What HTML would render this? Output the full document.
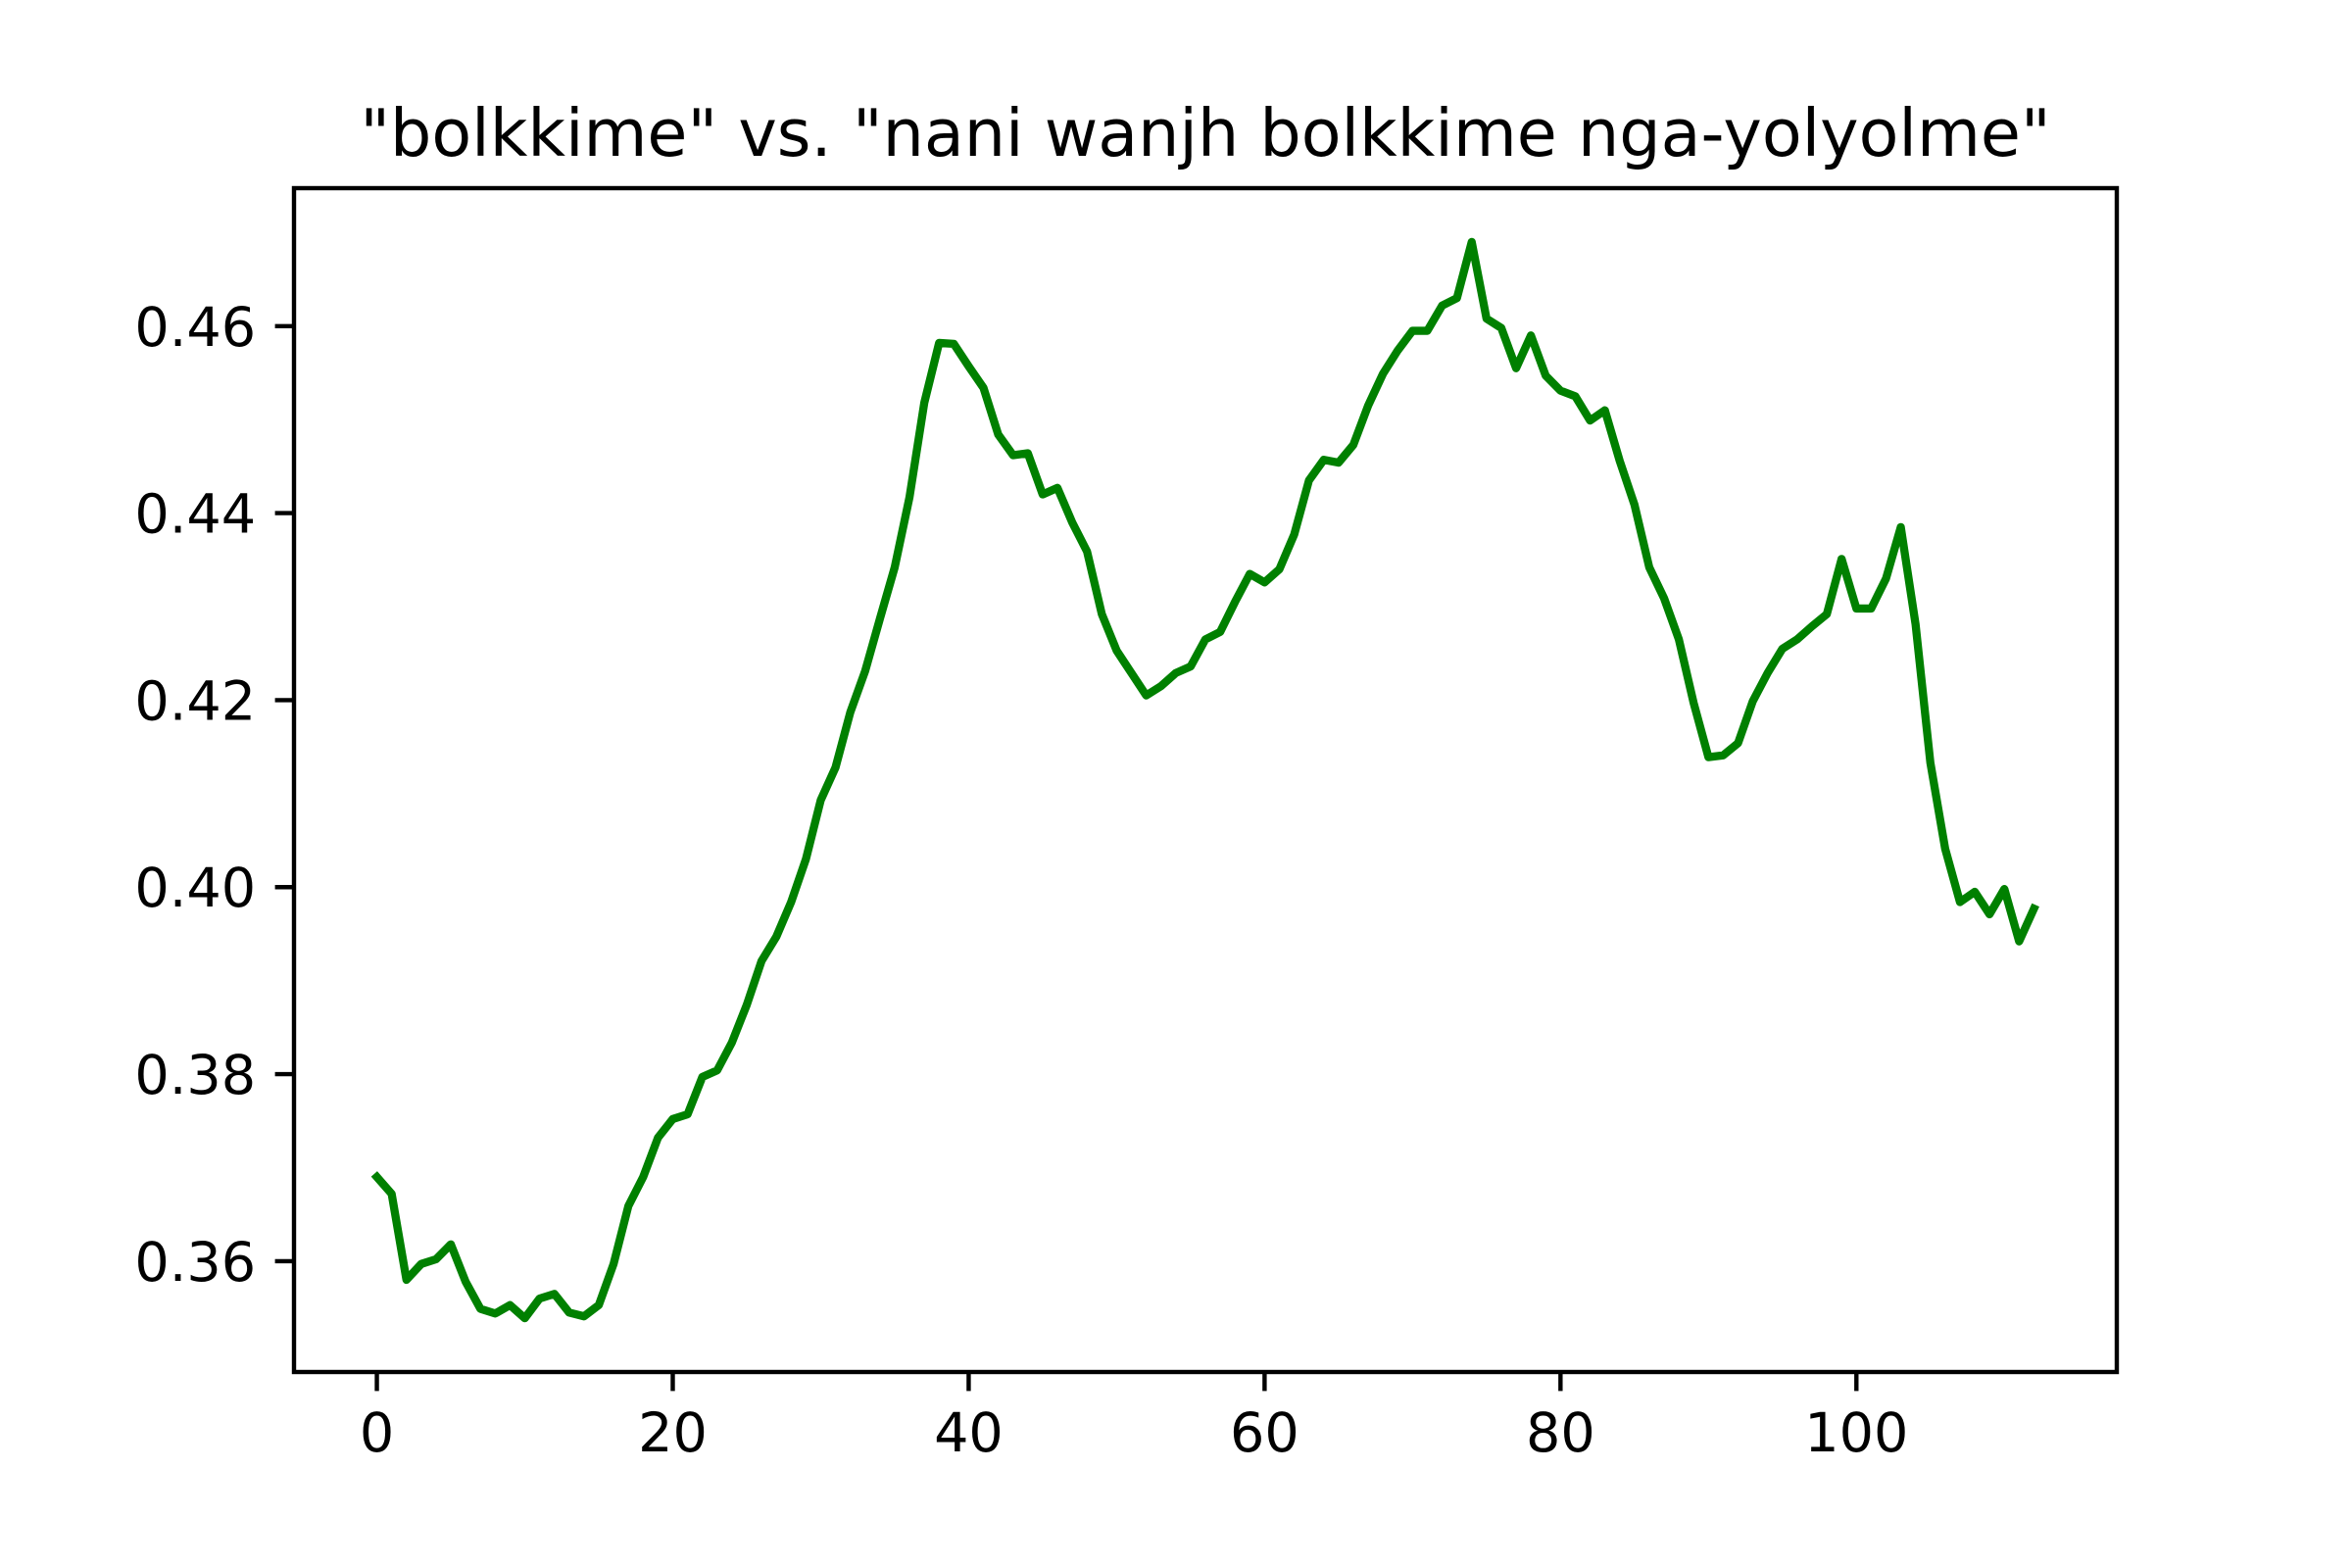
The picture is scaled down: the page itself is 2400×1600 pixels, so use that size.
<!DOCTYPE html>
<html><head><meta charset="utf-8"><style>html,body{margin:0;padding:0;background:#fff}svg{display:block}</style></head>
<body>
<svg id="chart" width="2400" height="1600" viewBox="0 0 2400 1600" xmlns="http://www.w3.org/2000/svg" font-family="'DejaVu Sans','Liberation Sans',sans-serif">
<rect x="0" y="0" width="2400" height="1600" fill="#fff"/>
<text x="1230" y="159" font-size="66.7" text-anchor="middle">"bolkkime" vs. "nani wanjh bolkkime nga-yolyolme"</text>
<g id="plot"></g>
<rect x="300" y="192" width="1860" height="1208" fill="none" stroke="#000" stroke-width="4.4"/>
</svg>
<script>
const values = [0.369,0.3672,0.358,0.3597,0.3602,0.3618,0.3578,0.3549,0.3544,0.3553,0.3539,0.356,0.3565,0.3545,0.3541,0.3553,0.3597,0.3659,0.369,0.3732,0.3752,0.3757,0.3797,0.3804,0.3834,0.3874,0.3921,0.3947,0.3984,0.403,0.4093,0.4128,0.4187,0.4231,0.4287,0.4342,0.4417,0.4518,0.4582,0.4581,0.4557,0.4534,0.4484,0.4462,0.4464,0.442,0.4427,0.439,0.4359,0.4292,0.4253,0.4229,0.4205,0.4215,0.4229,0.4236,0.4265,0.4273,0.4305,0.4335,0.4326,0.434,0.4377,0.4435,0.4457,0.4454,0.4473,0.4515,0.4549,0.4574,0.4595,0.4595,0.4622,0.463,0.469,0.4608,0.4598,0.4555,0.459,0.4547,0.4531,0.4525,0.4499,0.451,0.4456,0.4409,0.4342,0.4309,0.4265,0.4197,0.4139,0.4141,0.4154,0.4199,0.4229,0.4255,0.4265,0.4279,0.4292,0.4351,0.4298,0.4298,0.433,0.4385,0.4281,0.4133,0.4041,0.3984,0.3995,0.3971,0.3998,0.3942,0.3977];
const xTicks = [0,20,40,60,80,100];
const yTicks = [0.36,0.38,0.40,0.42,0.44,0.46];
const yTickLabels = ["0.36","0.38","0.40","0.42","0.44","0.46"];

const L=300,R=2160,T=192,B=1400;
const n=values.length;
const xmin=-(n-1)*0.05, xmax=(n-1)*1.05;
const vmin=Math.min(...values), vmax=Math.max(...values), pad=(vmax-vmin)*0.05;
const ymin=vmin-pad, ymax=vmax+pad;
const sx=v=>L+(v-xmin)/(xmax-xmin)*(R-L);
const sy=v=>B-(v-ymin)/(ymax-ymin)*(B-T);
const NS="http://www.w3.org/2000/svg";
const g=document.getElementById('plot');
function mk(tag,attrs){const e=document.createElementNS(NS,tag);for(const k in attrs)e.setAttribute(k,attrs[k]);g.appendChild(e);return e;}
xTicks.forEach(t=>{
  const l=mk('line',{x1:sx(t),x2:sx(t),y1:B,y2:B+19.4,stroke:'#000','stroke-width':4.4});
  
  
  const tx=mk('text',{x:sx(t),y:B+19.4+19.4+42,'font-size':55.6,'text-anchor':'middle'});
  tx.textContent=String(t);
  
  
});
yTicks.forEach((t,i)=>{
  const l=mk('line',{x1:L-19.4,x2:L,y1:sy(t),y2:sy(t),stroke:'#000','stroke-width':4.4});
  
  
  const tx=mk('text',{x:L-19.4-19.4,y:sy(t)+20,'font-size':55.6,'text-anchor':'end'});
  tx.textContent=yTickLabels[i];
  
  
});
const pts=values.map((v,i)=>sx(i).toFixed(2)+','+sy(v).toFixed(2)).join(' ');
const line=mk('polyline',{points:pts,fill:'none',stroke:'#008000','stroke-width':8.3,'stroke-linejoin':'round','stroke-linecap':'square'});


</script>
</body></html>
